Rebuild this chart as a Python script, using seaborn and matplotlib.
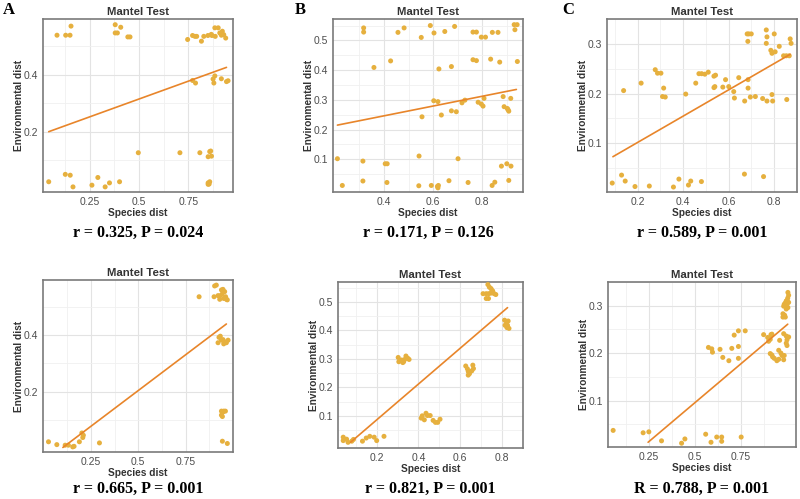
import numpy as np
import pandas as pd
import matplotlib
matplotlib.use("Agg")
import matplotlib.pyplot as plt
import seaborn as sns

# ---------------- data ----------------
# Panel A (top)
xA1 = [0.085, 0.129, 0.151, 0.156, 0.380, 0.408, 0.380, 0.391, 0.444, 0.455,
       0.747, 0.772, 0.784, 0.817, 0.829, 0.850, 0.867, 0.885, 0.902, 0.910,
       0.918, 0.923, 0.930, 0.940, 0.870, 0.887, 0.793,
       0.772, 0.787, 0.876, 0.880, 0.885, 0.918, 0.944, 0.952,
       0.497, 0.708, 0.809, 0.859, 0.868, 0.851, 0.864,
       0.043, 0.127, 0.152, 0.166, 0.262, 0.292, 0.329, 0.351, 0.402,
       0.851, 0.859, 0.856, 0.851]
yA1 = [0.539, 0.539, 0.539, 0.571, 0.576, 0.567, 0.547, 0.547, 0.533, 0.533,
       0.524, 0.538, 0.535, 0.518, 0.535, 0.538, 0.542, 0.565, 0.565, 0.547,
       0.539, 0.553, 0.541, 0.529, 0.538, 0.535, 0.535,
       0.380, 0.371, 0.385, 0.371, 0.396, 0.386, 0.376, 0.379,
       0.126, 0.126, 0.126, 0.130, 0.114, 0.112, 0.132,
       0.024, 0.050, 0.047, 0.006, 0.012, 0.039, 0.006, 0.020, 0.024,
       0.020, 0.024, 0.016, 0.015]
fitxA1 = [0.043, 0.944]
fityA1 = [0.200, 0.426]

# Panel B (top)
xB1 = [0.317, 0.317, 0.457, 0.482, 0.589, 0.552, 0.604, 0.648, 0.688, 0.763,
       0.777, 0.797, 0.814, 0.842, 0.865, 0.931, 0.943, 0.934, 0.944,
       0.359, 0.427, 0.624, 0.675, 0.763, 0.777, 0.835, 0.872,
       0.603, 0.620, 0.555, 0.634, 0.675, 0.695, 0.718, 0.730, 0.784, 0.797,
       0.804, 0.808, 0.886, 0.890, 0.903, 0.909, 0.917, 0.906,
       0.210, 0.314, 0.405, 0.413, 0.543, 0.702, 0.879, 0.901, 0.918,
       0.230, 0.314, 0.412, 0.542, 0.593, 0.618, 0.620, 0.665, 0.743, 0.841,
       0.852, 0.909, 0.622]
yB1 = [0.542, 0.528, 0.527, 0.542, 0.550, 0.510, 0.525, 0.530, 0.547, 0.528,
       0.528, 0.511, 0.511, 0.527, 0.527, 0.553, 0.553, 0.536, 0.429,
       0.409, 0.431, 0.404, 0.412, 0.435, 0.432, 0.437, 0.427,
       0.297, 0.294, 0.243, 0.249, 0.263, 0.260, 0.290, 0.299, 0.292, 0.286,
       0.279, 0.305, 0.311, 0.277, 0.271, 0.262, 0.305, 0.267,
       0.102, 0.094, 0.085, 0.085, 0.111, 0.102, 0.077, 0.085, 0.077,
       0.012, 0.027, 0.022, 0.011, 0.012, 0.009, 0.004, 0.028, 0.022, 0.012,
       0.023, 0.029, 0.012]
fitxB1 = [0.210, 0.940]
fityB1 = [0.215, 0.335]

# Panel C (top)
xC1 = [0.688, 0.699, 0.681, 0.684, 0.765, 0.768, 0.800, 0.765, 0.822, 0.785,
       0.790, 0.804, 0.870, 0.874, 0.841, 0.853, 0.866,
       0.277, 0.287, 0.302, 0.314, 0.309, 0.321, 0.411, 0.455, 0.469, 0.481,
       0.495, 0.510, 0.535, 0.542, 0.535, 0.539, 0.574, 0.586, 0.600, 0.622,
       0.625, 0.644, 0.670, 0.685, 0.685, 0.695, 0.717, 0.749, 0.768, 0.790,
       0.793, 0.855, 0.215, 0.138,
       0.088, 0.129, 0.145, 0.188, 0.251, 0.357, 0.381, 0.423, 0.433, 0.480,
       0.669, 0.753]
yC1 = [0.320, 0.320, 0.320, 0.305, 0.328, 0.314, 0.320, 0.301, 0.295, 0.287,
       0.281, 0.284, 0.310, 0.301, 0.276, 0.276, 0.276,
       0.248, 0.241, 0.241, 0.211, 0.194, 0.193, 0.199, 0.221, 0.240, 0.240,
       0.239, 0.243, 0.235, 0.237, 0.212, 0.214, 0.213, 0.228, 0.214, 0.204,
       0.191, 0.232, 0.185, 0.228, 0.211, 0.193, 0.194, 0.190, 0.185, 0.198,
       0.185, 0.188, 0.221, 0.206,
       0.020, 0.036, 0.024, 0.013, 0.014, 0.012, 0.028, 0.016, 0.024, 0.023,
       0.038, 0.033]
fitxC1 = [0.091, 0.870]
fityC1 = [0.073, 0.279]

# Panel A (bottom)
xA2 = [0.903, 0.912, 0.821, 0.900, 0.921, 0.930, 0.939, 0.947, 0.956, 0.961,
       0.965, 0.951, 0.942, 0.930, 0.970,
       0.926, 0.933, 0.921, 0.939, 0.947, 0.956, 0.965, 0.974, 0.951,
       0.939, 0.951, 0.960, 0.939, 0.944, 0.947,
       0.944, 0.970,
       0.026, 0.070, 0.114, 0.131, 0.154, 0.161, 0.189, 0.202, 0.207, 0.210,
       0.295]
yA2 = [0.573, 0.576, 0.535, 0.535, 0.539, 0.538, 0.559, 0.561, 0.553, 0.535,
       0.526, 0.529, 0.544, 0.526, 0.524,
       0.392, 0.396, 0.373, 0.382, 0.384, 0.376, 0.373, 0.382, 0.369,
       0.132, 0.132, 0.132, 0.118, 0.113, 0.129,
       0.026, 0.018,
       0.024, 0.014, 0.012, 0.012, 0.006, 0.008, 0.024, 0.055, 0.039, 0.047,
       0.020]
fitxA2 = [0.102, 0.965]
fityA2 = [0.004, 0.439]

# Panel B (bottom)
xB2 = [0.732, 0.739, 0.747, 0.755, 0.709, 0.724, 0.736, 0.747, 0.762, 0.724,
       0.735, 0.752, 0.770,
       0.812, 0.821, 0.829, 0.814, 0.823, 0.833, 0.826,
       0.626, 0.634, 0.638, 0.644, 0.638, 0.660, 0.663, 0.655,
       0.303, 0.319, 0.306, 0.329, 0.340, 0.349, 0.355, 0.334, 0.325,
       0.413, 0.428, 0.436, 0.443, 0.456, 0.470, 0.481, 0.492, 0.503, 0.418,
       0.040, 0.056, 0.040, 0.063, 0.081, 0.089, 0.132, 0.150, 0.167, 0.188,
       0.200, 0.235]
yB2 = [0.561, 0.552, 0.547, 0.538, 0.529, 0.529, 0.529, 0.531, 0.529, 0.512,
       0.512, 0.540, 0.526,
       0.436, 0.431, 0.433, 0.418, 0.410, 0.407, 0.418,
       0.275, 0.265, 0.256, 0.248, 0.243, 0.278, 0.266, 0.258,
       0.305, 0.296, 0.290, 0.290, 0.310, 0.302, 0.298, 0.298, 0.287,
       0.092, 0.086, 0.109, 0.101, 0.101, 0.084, 0.077, 0.077, 0.088, 0.100,
       0.025, 0.018, 0.013, 0.007, 0.011, 0.017, 0.011, 0.022, 0.028, 0.025,
       0.013, 0.028]
fitxB2 = [0.075, 0.826]
fityB2 = [0.007, 0.480]

# Panel C (bottom)
xC2 = [1.005, 1.009, 1.004, 1.000, 1.009, 0.996, 0.991, 0.985, 1.000, 0.982,
       1.005, 0.996, 0.978, 0.987, 0.978, 0.991,
       0.873, 0.913, 0.895, 0.909, 0.900, 0.918, 0.982, 0.996, 1.009, 1.000,
       0.996, 1.000, 0.960, 0.955, 0.967, 0.973, 0.982, 0.955, 0.945, 0.931,
       0.922, 0.909, 0.918, 0.985,
       0.573, 0.591, 0.595, 0.636, 0.651, 0.684, 0.700, 0.713, 0.736, 0.736,
       0.736, 0.773,
       0.055, 0.218, 0.249, 0.318, 0.427, 0.445, 0.558, 0.587, 0.618, 0.645,
       0.645, 0.751]
yC2 = [0.328, 0.322, 0.316, 0.311, 0.307, 0.310, 0.306, 0.303, 0.303, 0.299,
       0.296, 0.293, 0.283, 0.280, 0.276, 0.276,
       0.239, 0.239, 0.233, 0.229, 0.225, 0.240, 0.241, 0.236, 0.234, 0.228,
       0.221, 0.216, 0.227, 0.206, 0.200, 0.195, 0.186, 0.187, 0.184, 0.189,
       0.192, 0.199, 0.196, 0.195,
       0.212, 0.209, 0.202, 0.208, 0.191, 0.184, 0.210, 0.238, 0.247, 0.214,
       0.189, 0.247,
       0.037, 0.032, 0.034, 0.015, 0.010, 0.019, 0.029, 0.012, 0.023, 0.023,
       0.014, 0.023]
fitxC2 = [0.245, 1.004]
fityC2 = [0.012, 0.261]

stat_labels = ["r = 0.325, P = 0.024", "r = 0.171, P = 0.126", "r = 0.589, P = 0.001",
               "r = 0.665, P = 0.001", "r = 0.821, P = 0.001", "R = 0.788, P = 0.001"]
panel_letters = ["A", "B", "C"]

xticks_A = [0.25, 0.5, 0.75]
xticklabels_A = ["0.25", "0.5", "0.75"]
xticks_B1 = [0.4, 0.6, 0.8]
xticks_C1 = [0.2, 0.4, 0.6, 0.8]
xticks_B2 = [0.2, 0.4, 0.6, 0.8]
yticks_A = [0.2, 0.4]
yticks_B = [0.1, 0.2, 0.3, 0.4, 0.5]
yticks_C = [0.1, 0.2, 0.3]

# ---------------- styling ----------------
sns.set_theme(style="whitegrid")
plt.rcParams['font.family'] = ['Liberation Sans', 'DejaVu Sans']

PT = "#E6B03E"
LN = "#E8852A"
W, H = 800, 499

fig = plt.figure(figsize=(8.0, 4.99), dpi=100)
fig.patch.set_facecolor("white")


def rect(l, r, t, b):
    return [l / W, 1 - b / H, (r - l) / W, (b - t) / H]


panels = [
    dict(x=xA1, y=yA1, fx=fitxA1, fy=fityA1, box=rect(43, 233, 19, 192),
         xlim=(0.014, 0.977), ylim=(-0.012, 0.596), xt=xticks_A, xtl=xticklabels_A,
         yt=yticks_A),
    dict(x=xB1, y=yB1, fx=fitxB1, fy=fityB1, box=rect(333, 523, 19, 192),
         xlim=(0.192, 0.967), ylim=(-0.010, 0.572), xt=xticks_B1, xtl=None, yt=yticks_B),
    dict(x=xC1, y=yC1, fx=fitxC1, fy=fityC1, box=rect(607, 797, 19, 192),
         xlim=(0.065, 0.892), ylim=(0.002, 0.339), xt=xticks_C1, xtl=None, yt=yticks_C),
    dict(x=xA2, y=yA2, fx=fitxA2, fy=fityA2, box=rect(43, 233, 280, 452),
         xlim=(-0.003, 1.0), ylim=(-0.012, 0.594), xt=xticks_A, xtl=xticklabels_A,
         yt=yticks_A),
    dict(x=xB2, y=yB2, fx=fitxB2, fy=fityB2, box=rect(338, 523, 282, 448),
         xlim=(0.015, 0.858), ylim=(-0.013, 0.570), xt=xticks_B2, xtl=None, yt=yticks_B),
    dict(x=xC2, y=yC2, fx=fitxC2, fy=fityC2, box=rect(608, 796, 282, 447),
         xlim=(0.027, 1.049), ylim=(0.002, 0.337), xt=xticks_A, xtl=xticklabels_A,
         yt=yticks_C),
]

stat_pos = [(138, 233), (428, 233), (702, 233), (138, 489), (430, 489), (702, 489)]
letter_pos = [(9, 10), (300, 10), (568, 10)]

for i, p in enumerate(panels):
    ax = fig.add_axes(p["box"])
    df = pd.DataFrame({"Species dist": p["x"], "Environmental dist": p["y"]})
    sns.scatterplot(data=df, x="Species dist", y="Environmental dist", ax=ax,
                    color=PT, s=13, edgecolor="none", linewidth=0, zorder=3)
    fit = pd.DataFrame({"x": p["fx"], "y": p["fy"]})
    sns.lineplot(data=fit, x="x", y="y", ax=ax, color=LN, linewidth=1.2, zorder=4)
    ax.set_xlim(*p["xlim"])
    ax.set_ylim(*p["ylim"])
    ax.set_xticks(p["xt"])
    if p["xtl"] is not None:
        ax.set_xticklabels(p["xtl"])
    else:
        ax.set_xticklabels([f"{v:.1f}" for v in p["xt"]])
    ax.set_yticks(p["yt"])
    ax.set_yticklabels([f"{v:.1f}" for v in p["yt"]])
    # minor grid at midpoints
    xs = p["xt"]
    dx = xs[1] - xs[0]
    ax.set_xticks([v - dx / 2 for v in xs] + [xs[-1] + dx / 2], minor=True)
    ys = p["yt"]
    dy = ys[1] - ys[0]
    ax.set_yticks([v - dy / 2 for v in ys] + [ys[-1] + dy / 2], minor=True)
    ax.set_facecolor("white")
    ax.grid(which="major", color="#E3E3E3", linewidth=0.8)
    ax.grid(which="minor", color="#F0F0F0", linewidth=0.6)
    ax.set_axisbelow(True)
    for s in ax.spines.values():
        s.set_color("#7A7A7A")
        s.set_linewidth(1.2)
    ax.tick_params(axis="both", which="major", labelsize=7.5, labelcolor="#4D4D4D",
                   length=2, width=0.6, color="#555555", pad=1.5)
    ax.tick_params(axis="both", which="minor", length=0)
    ax.set_title("Mantel Test", fontsize=8.2, fontweight="bold", color="#333333", pad=3)
    ax.set_xlabel("Species dist", fontsize=7.3, fontweight="bold", color="#333333",
                  labelpad=1)
    ax.set_ylabel("Environmental dist", fontsize=7.3, fontweight="bold", color="#333333",
                  labelpad=0)
    sx, sy = stat_pos[i]
    fig.text(sx / W, 1 - sy / H, stat_labels[i], ha="center", va="center",
             fontsize=11.5, fontweight="bold", family=["Liberation Serif", "DejaVu Serif"],
             color="black")

for (lx, ly), lt in zip(letter_pos, panel_letters):
    fig.text(lx / W, 1 - ly / H, lt, ha="center", va="center", fontsize=12,
             fontweight="bold", family=["Liberation Serif", "DejaVu Serif"], color="black")

fig.savefig("out.png", dpi=100, facecolor="white")
